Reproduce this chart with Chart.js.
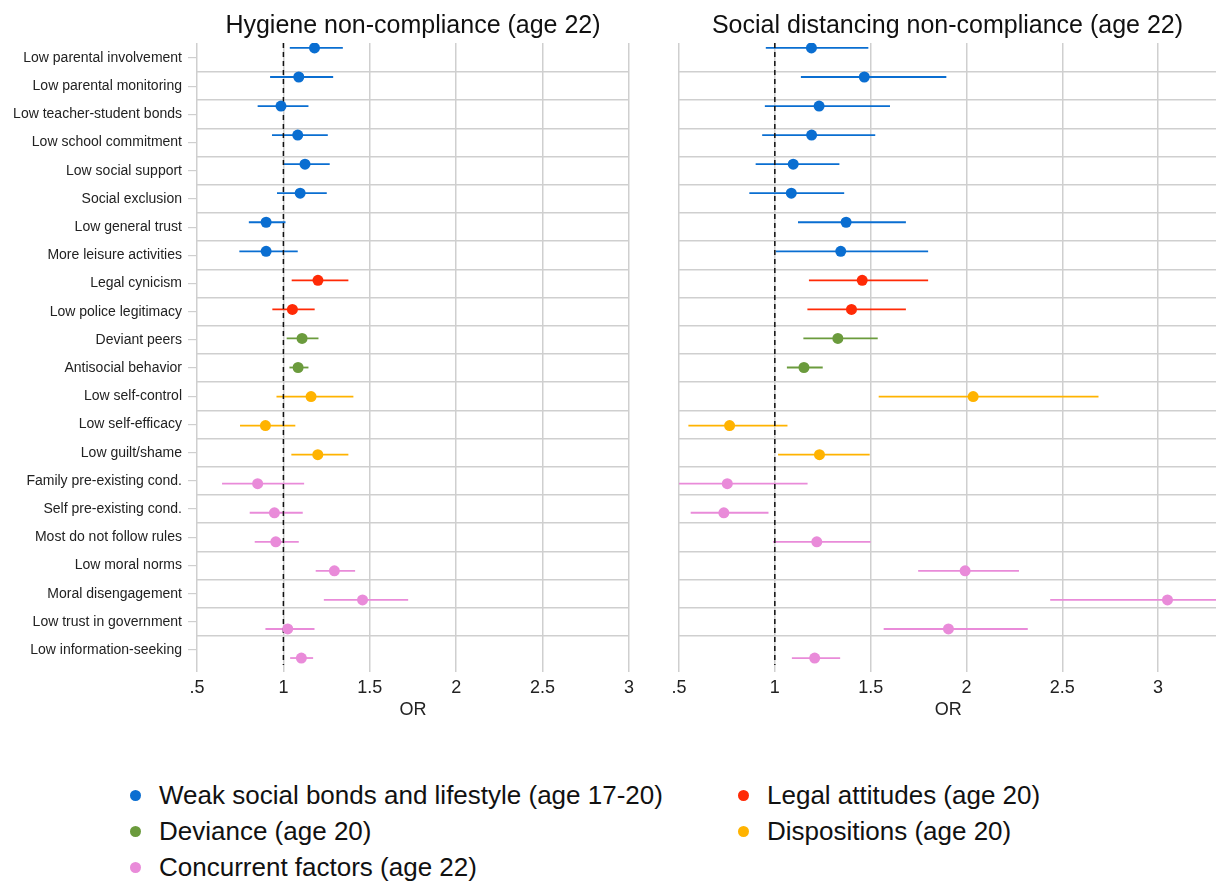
<!DOCTYPE html>
<html>
<head>
<meta charset="utf-8">
<script src="https://cdn.jsdelivr.net/npm/chart.js@4"></script>
<style>
  body { margin: 0; background: #fff; font-family: "Liberation Sans", Arial, Helvetica, sans-serif; }
  #lienzo { position: relative; width: 1216px; height: 887px; overflow: hidden; }
  canvas { position: absolute; top: 0; }
  .titulo { position: absolute; top: 12px; font-size: 25px; line-height: 25px; text-align: center; color: #111; white-space: nowrap; }
  .leyenda { position: absolute; font-size: 26px; line-height: 26px; color: #111; white-space: nowrap; }
  .marca { position: absolute; width: 11px; height: 11px; border-radius: 50%; }
</style>
</head>
<body>
<div id="lienzo">
  <canvas id="graficoHigiene" width="640" height="730" style="left:0"></canvas>
  <canvas id="graficoDistancia" width="563" height="730" style="left:660px"></canvas>
  <div class="titulo" style="left:197px;width:432px">Hygiene non-compliance (age 22)</div>
  <div class="titulo" style="left:679px;width:537px">Social distancing non-compliance (age 22)</div>
  <div id="leyenda"></div>
</div>
<script>
// Categorías (de arriba hacia abajo)
const etiquetas = [
  "Low parental involvement", "Low parental monitoring", "Low teacher-student bonds",
  "Low school commitment", "Low social support", "Social exclusion", "Low general trust",
  "More leisure activities", "Legal cynicism", "Low police legitimacy", "Deviant peers",
  "Antisocial behavior", "Low self-control", "Low self-efficacy", "Low guilt/shame",
  "Family pre-existing cond.", "Self pre-existing cond.", "Most do not follow rules",
  "Low moral norms", "Moral disengagement", "Low trust in government", "Low information-seeking"
];

// Grupo de cada fila (índice en nombresGrupos)
const grupoFila = [0, 0, 0, 0, 0, 0, 0, 0, 1, 1, 2, 2, 3, 3, 3, 4, 4, 4, 4, 4, 4, 4];
const nombresGrupos = [
  "Weak social bonds and lifestyle (age 17-20)", "Legal attitudes (age 20)",
  "Deviance (age 20)", "Dispositions (age 20)", "Concurrent factors (age 22)"
];
const coloresGrupos = ["#0a6ed1", "#ff2a06", "#6b9b3d", "#ffb300", "#e98bd9"];

// Panel izquierdo: higiene
const higieneOR = [1.18, 1.089, 0.986, 1.083, 1.125, 1.097, 0.90, 0.90, 1.20, 1.052, 1.108,
  1.085, 1.16, 0.896, 1.199, 0.851, 0.948, 0.956, 1.295, 1.458, 1.025, 1.104];
const higieneLo = [1.037, 0.923, 0.851, 0.934, 1.002, 0.963, 0.80, 0.745, 1.048, 0.936, 1.019,
  1.035, 0.96, 0.749, 1.046, 0.645, 0.805, 0.834, 1.187, 1.234, 0.896, 1.039];
const higieneHi = [1.344, 1.288, 1.145, 1.257, 1.268, 1.251, 1.012, 1.083, 1.376, 1.181, 1.203,
  1.145, 1.405, 1.069, 1.376, 1.12, 1.112, 1.089, 1.415, 1.722, 1.18, 1.172];

// Panel derecho: distanciamiento social
const distanciaOR = [1.191, 1.467, 1.231, 1.192, 1.096, 1.086, 1.372, 1.344, 1.456, 1.40, 1.329,
  1.152, 2.035, 0.764, 1.233, 0.752, 0.734, 1.219, 1.993, 3.049, 1.906, 1.208];
const distanciaLo = [0.953, 1.136, 0.948, 0.934, 0.90, 0.867, 1.121, 1.005, 1.178, 1.17, 1.149,
  1.063, 1.542, 0.549, 1.017, 0.48, 0.561, 0.991, 1.748, 2.437, 1.568, 1.089];
const distanciaHi = [1.488, 1.895, 1.601, 1.524, 1.337, 1.362, 1.684, 1.80, 1.80, 1.684, 1.537,
  1.25, 2.689, 1.066, 1.495, 1.171, 0.967, 1.50, 2.274, 3.75, 2.32, 1.341];

// Marcas del eje x
const marcasX = [0.5, 1, 1.5, 2, 2.5, 3];

const fuente = "'Liberation Sans', Arial, Helvetica, sans-serif";
const gris = "#cfcfcf";
// rango del eje de puntos y del eje de etiquetas (las filas no coinciden exactamente)
const yPuntos = { min: -0.17, max: 21.24 };
const yFilas = { min: -0.53, max: 21.53 };

function crearDatasets(or, lo, hi) {
  const datasets = [];
  // puntos, uno por grupo
  nombresGrupos.forEach(function (nombre, g) {
    const puntos = [];
    for (let i = 0; i < or.length; i++) {
      if (grupoFila[i] === g) puntos.push({ x: or[i], y: i });
    }
    datasets.push({
      label: nombre, data: puntos, yAxisID: "y", order: 0,
      pointRadius: 5.5, pointHoverRadius: 5.5, pointBorderWidth: 0,
      backgroundColor: coloresGrupos[g], borderColor: coloresGrupos[g]
    });
  });
  // línea de referencia OR = 1
  datasets.push({
    label: "ref", data: [{ x: 1, y: yPuntos.min }, { x: 1, y: yPuntos.max }], yAxisID: "y",
    showLine: true, pointRadius: 0, borderColor: "#111", borderWidth: 1.5,
    borderDash: [5, 4], order: 1
  });
  // intervalos de confianza
  for (let i = 0; i < or.length; i++) {
    datasets.push({
      label: "ic" + i, data: [{ x: lo[i], y: i }, { x: hi[i], y: i }], yAxisID: "y",
      showLine: true, pointRadius: 0, borderWidth: 1.8,
      borderColor: coloresGrupos[grupoFila[i]], order: 2
    });
  }
  return datasets;
}

function ejesComunes(maxX) {
  return {
    x: {
      type: "linear", min: 0.5, max: maxX,
      afterBuildTicks: function (eje) { eje.ticks = marcasX.map(v => ({ value: v })); },
      ticks: {
        callback: v => String(v).replace(/^0\./, "."),
        font: { family: fuente, size: 18 }, color: "#222", padding: 5, maxRotation: 0
      },
      grid: { color: gris, lineWidth: 1.5, tickLength: 7, tickColor: gris },
      border: { display: false },
      title: {
        display: true, text: "OR", color: "#222",
        font: { family: fuente, size: 18 }, padding: { top: 0, bottom: 4 }
      },
      afterFit: function (eje) { eje.height = 60; }
    },
    y: { type: "linear", min: yPuntos.min, max: yPuntos.max, reverse: true, display: false },
    yg: {
      type: "linear", position: "left", min: yFilas.min, max: yFilas.max, reverse: true,
      afterBuildTicks: function (eje) {
        eje.ticks = etiquetas.slice(1).map((_, i) => ({ value: i + 0.5 }));
      },
      ticks: { display: false },
      grid: { color: gris, lineWidth: 1.5, drawTicks: false },
      border: { display: false },
      afterFit: function (eje) { eje.width = 0; }
    }
  };
}

function crearGrafico(id, or, lo, hi, maxX, conEtiquetas, padding) {
  const escalas = ejesComunes(maxX);
  if (conEtiquetas) {
    escalas.yl = {
      type: "linear", position: "left", min: yFilas.min, max: yFilas.max, reverse: true,
      afterBuildTicks: function (eje) { eje.ticks = etiquetas.map((_, i) => ({ value: i })); },
      ticks: {
        callback: v => etiquetas[v], autoSkip: false, padding: 6,
        font: { family: fuente, size: 14 }, color: "#222"
      },
      grid: { drawOnChartArea: false, tickLength: 9, color: gris, lineWidth: 1.2 },
      border: { display: false },
      afterFit: function (eje) { eje.width = 197; }
    };
  }
  const ctx = document.getElementById(id).getContext("2d");
  return new Chart(ctx, {
    type: "scatter",
    data: { datasets: crearDatasets(or, lo, hi) },
    options: {
      responsive: false,
      animation: false,
      layout: { padding: padding },
      scales: escalas,
      plugins: { legend: { display: false }, tooltip: { enabled: false } }
    }
  });
}

crearGrafico("graficoHigiene", higieneOR, higieneLo, higieneHi, 3, true,
  { top: 43, right: 11, bottom: 5, left: 0 });
crearGrafico("graficoDistancia", distanciaOR, distanciaLo, distanciaHi, 3.31, false,
  { top: 43, right: 0, bottom: 5, left: 19 });

// Leyenda en dos columnas
const posLeyenda = [
  { x: 135, y: 795 }, { x: 743, y: 795 }, { x: 135, y: 831 }, { x: 743, y: 831 }, { x: 135, y: 867 }
];
const ordenLeyenda = [0, 1, 2, 3, 4];
const contenedor = document.getElementById("leyenda");
ordenLeyenda.forEach(function (g, k) {
  const p = posLeyenda[k];
  const marca = document.createElement("div");
  marca.className = "marca";
  marca.style.left = (p.x - 5.5) + "px";
  marca.style.top = (p.y - 5.5) + "px";
  marca.style.background = coloresGrupos[g];
  contenedor.appendChild(marca);
  const texto = document.createElement("div");
  texto.className = "leyenda";
  texto.style.left = (p.x + 24) + "px";
  texto.style.top = (p.y - 13) + "px";
  texto.textContent = nombresGrupos[g];
  contenedor.appendChild(texto);
});
</script>
</body>
</html>
